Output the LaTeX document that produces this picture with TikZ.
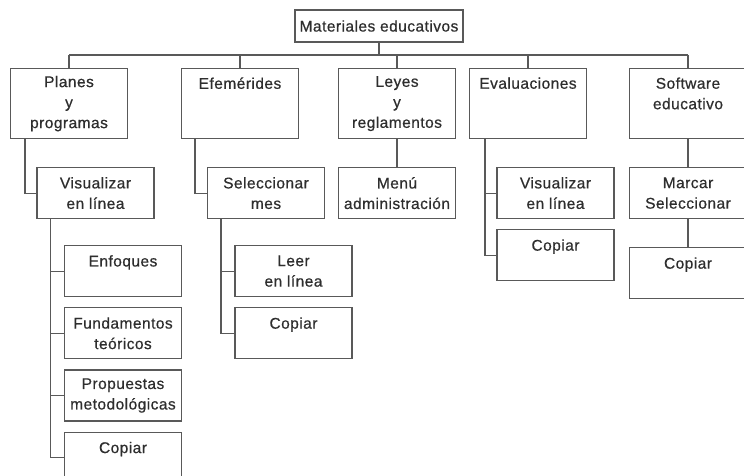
\documentclass[tikz,border=0pt]{standalone}
\usepackage{fontspec}
\setmainfont{Liberation Sans}[LetterSpace=3, FakeBold=0.6]
\usepackage{tikz}
\usetikzlibrary{positioning}

\begin{document}
\begin{tikzpicture}[
    x=1pt, y=-1pt,
    node distance=10pt,
    box/.style={draw=black!65, line width=1.2pt, text=black!82, align=center,
      font=\fontsize{15.5}{20.5}\selectfont, inner sep=0pt, minimum width=117pt},
    head/.style={box, minimum width=168pt, minimum height=32pt},
    topic/.style={box, minimum height=70pt, anchor=north},
    item/.style={box, minimum height=51pt},
    link/.style={draw=black!65, line width=1.2pt}
  ]
    \useasboundingbox (0,0) rectangle (744,476);
    \clip (0,0) rectangle (744,476);

    \node[head] (mat) at (379,26) {Materiales educativos};
    \coordinate (bus) at (0,55);

    % first level
    \node[topic] (planes) at (69,68) {Planes\\y\\programas};
    \node[topic] (efem) at (240,68) {Efemérides\\~\\~};
    \node[topic] (leyes) at (397,68) {Leyes\\y\\reglamentos};
    \node[topic] (eval) at (528,68) {Evaluaciones\\~\\~};
    \node[topic] (soft) at (688,68) {Software\\educativo\\~};

    % second level
    \node[item, anchor=north] (vis1) at (95.5,167) {Visualizar\\en línea};
    \node[item, anchor=north] (sel) at (266,167) {Seleccionar\\mes};
    \node[item, anchor=north] (menu) at (397,167) {Menú\\administración};
    \node[item, anchor=north] (vis2) at (555.5,167) {Visualizar\\en línea};
    \node[item, below=of vis2] (cop2) {Copiar\\~};
    \node[item, anchor=north] (marcar) at (688,167) {Marcar\\Seleccionar};
    \node[item, below=28pt of marcar] (cop3) {Copiar\\~};

    % third level
    \node[item, anchor=north] (enf) at (123,245) {Enfoques\\~};
    \node[item, below=of enf] (fund) {Fundamentos\\teóricos};
    \node[item, below=of fund] (prop) {Propuestas\\metodológicas};
    \node[item, below=of prop] (cop1) {Copiar\\~};
    \node[item, anchor=north] (leer) at (293.5,245) {Leer\\en línea};
    \node[item, below=of leer] (cop4) {Copiar\\~};

    % connectors
    \draw[link] (mat) -- (mat |- bus);
    \draw[link] (planes.north |- bus) -- (soft.north |- bus);
    \foreach \n in {planes,efem,leyes,eval,soft}
      \draw[link] (\n.north) -- (\n.north |- bus);

    \draw[link] ([xshift=15pt]planes.south west) |- (vis1.west);
    \draw[link] ([xshift=14pt]efem.south west) |- (sel.west);
    \draw[link] (leyes) -- (menu);
    \coordinate (evtrunk) at ([xshift=16pt]eval.south west);
    \draw[link] (evtrunk) |- (cop2.west);
    \draw[link] (vis2.west) -- (vis2.west -| evtrunk);
    \draw[link] (soft) -- (marcar);
    \draw[link] (marcar) -- (cop3);

    \coordinate (vtrunk) at ([xshift=14pt]vis1.south west);
    \draw[link] (vtrunk) |- (cop1.west);
    \foreach \n in {enf,fund,prop}
      \draw[link] (\n.west) -- (\n.west -| vtrunk);
    \coordinate (strunk) at ([xshift=14pt]sel.south west);
    \draw[link] (strunk) |- (cop4.west);
    \draw[link] (leer.west) -- (leer.west -| strunk);
\end{tikzpicture}
\end{document}
